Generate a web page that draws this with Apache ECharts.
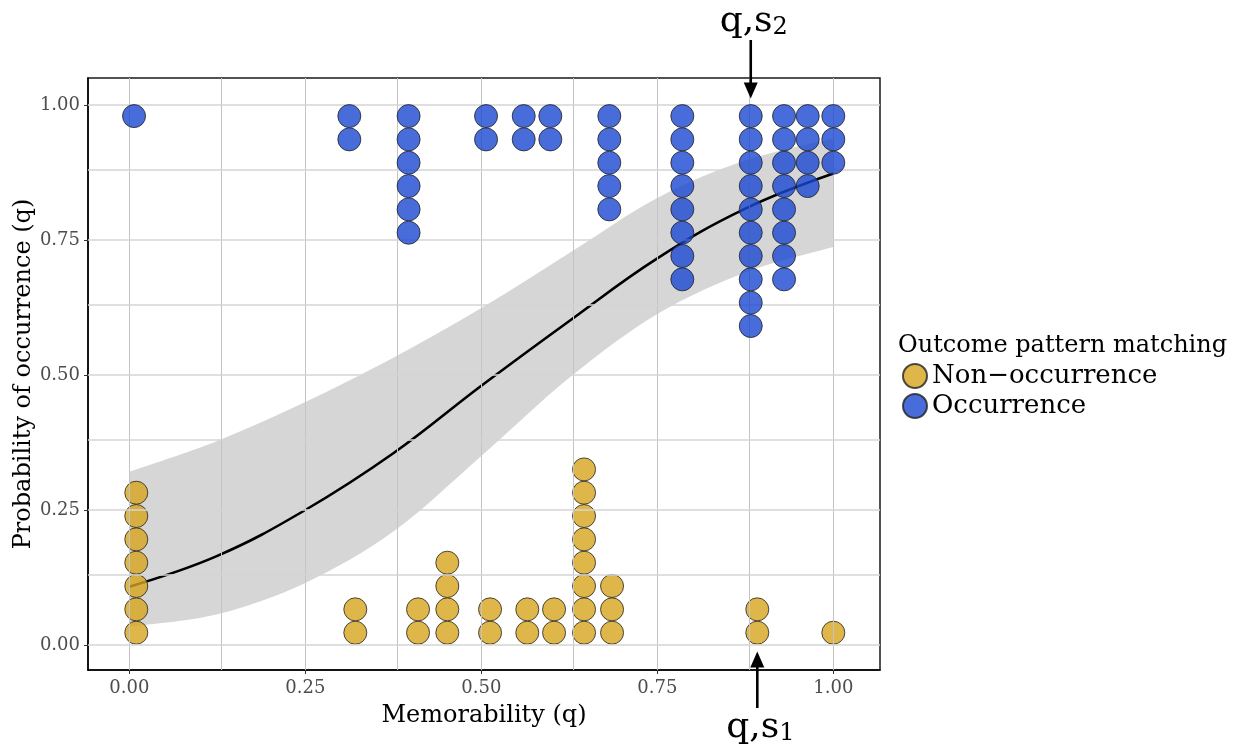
<!DOCTYPE html>
<html><head><meta charset="utf-8">
<script src="https://cdn.jsdelivr.net/npm/echarts@6/dist/echarts.min.js"></script>
<style>html,body{margin:0;padding:0;background:#fff}#c{width:1240px;height:747px}</style>
</head><body><div id="c"></div>
<script>
// ---- data ----
const nonOccX     = [0.0099, 0.3210, 0.4101, 0.4517, 0.5124, 0.5653, 0.6033, 0.6459, 0.6857, 0.8920, 1.0000];
const nonOccCount = [7, 2, 2, 4, 2, 2, 2, 8, 3, 2, 1];
const occX        = [0.0067, 0.3125, 0.3967, 0.5067, 0.5602, 0.5980, 0.6818, 0.7855, 0.8827, 0.9300, 0.9636, 1.0000];
const occCount    = [1, 2, 6, 2, 2, 2, 5, 8, 10, 8, 4, 3];
const fitX   = [0, 0.125, 0.25, 0.375, 0.5, 0.625, 0.75, 0.875, 1.0];
const fitY   = [0.108, 0.165, 0.250, 0.355, 0.480, 0.600, 0.716, 0.808, 0.873];
const ciLow  = [0.034, 0.057, 0.115, 0.210, 0.350, 0.495, 0.613, 0.690, 0.737];
const ciHigh = [0.321, 0.378, 0.450, 0.532, 0.624, 0.726, 0.828, 0.897, 0.938];
const xTicks = [0, 0.25, 0.5, 0.75, 1];
const yTicks = [0, 0.25, 0.5, 0.75, 1];
const xMinor = [0.125, 0.375, 0.625, 0.875];
const yMinor = [0.125, 0.375, 0.625, 0.875];
const seriesNames = ['Non\u2212occurrence', 'Occurrence'];
const legendTitle = 'Outcome pattern matching';
const xTitle = 'Memorability (q)';
const yTitle = 'Probability of occurrence (q)';
const annTop = {x: occX[8], label: 'q,s', sub: '2'};
const annBottom = {x: nonOccX[9], label: 'q,s', sub: '1'};

// ---- layout constants (dotplot stacking) ----
const DOT_STEP = 0.0432, NON_BASE = 0.0228, OCC_BASE = 0.9795;
function stackDots(xs, counts, base, step) {
  const out = [];
  xs.forEach((x, i) => { for (let k = 0; k < counts[i]; k++) out.push([x, base + k * step]); });
  return out;
}
const FONT = 'DejaVu Serif';
const chart = echarts.init(document.getElementById('c'), null, {renderer: 'canvas'});

const gridMarks = [];
xTicks.concat(xMinor).forEach(v => gridMarks.push({xAxis: v, lineStyle: {color: '#c4c4c4', width: 1, type: 'solid'}}));
yTicks.concat(yMinor).forEach(v => gridMarks.push({yAxis: v, lineStyle: {color: '#d4d4d4', width: 1.5, type: 'solid'}}));

const dotStyle = (c) => ({color: c, opacity: 0.8, borderColor: '#222', borderWidth: 1});

// smooth path (Catmull-Rom -> cubic Bezier) through pixel points
function smoothSeg(pts, start) {
  let d = start ? 'M' + pts[0][0] + ',' + pts[0][1] : 'L' + pts[0][0] + ',' + pts[0][1];
  for (let i = 0; i < pts.length - 1; i++) {
    const p0 = pts[Math.max(i - 1, 0)], p1 = pts[i], p2 = pts[i + 1], p3 = pts[Math.min(i + 2, pts.length - 1)];
    const c1 = [p1[0] + (p2[0] - p0[0]) / 6, p1[1] + (p2[1] - p0[1]) / 6];
    const c2 = [p2[0] - (p3[0] - p1[0]) / 6, p2[1] - (p3[1] - p1[1]) / 6];
    d += 'C' + c1[0] + ',' + c1[1] + ' ' + c2[0] + ',' + c2[1] + ' ' + p2[0] + ',' + p2[1];
  }
  return d;
}

chart.setOption({
  animation: false,
  backgroundColor: '#fff',
  title: {text: legendTitle, left: 893, top: 329,
    textStyle: {fontFamily: FONT, fontSize: 24, fontWeight: 'normal', color: '#000'}},
  legend: {data: seriesNames, orient: 'vertical', left: 897, top: 358, itemWidth: 24, itemHeight: 24,
    itemGap: 4, icon: 'circle', textStyle: {fontFamily: FONT, fontSize: 26, color: '#000'}},
  grid: {left: 88, right: 360, top: 78, bottom: 77, show: true, borderColor: '#1a1a1a', borderWidth: 1.5,
    containLabel: false, outerBoundsMode: 'none'},
  xAxis: {type: 'value', min: -0.0587, max: 1.0663, splitLine: {show: false},
    axisLine: {show: true, onZero: false, lineStyle: {color: '#000', width: 1.5}},
    axisTick: {show: true, customValues: xTicks, length: 4, lineStyle: {color: '#333'}},
    axisLabel: {customValues: xTicks, formatter: v => v.toFixed(2), color: '#4d4d4d', fontFamily: FONT, fontSize: 18, margin: 9},
    name: xTitle, nameLocation: 'middle', nameGap: 34, nameMoveOverlap: false,
    nameTextStyle: {fontFamily: FONT, fontSize: 24, color: '#000'}},
  yAxis: {type: 'value', min: -0.0463, max: 1.05, splitLine: {show: false},
    axisLine: {show: true, onZero: false, lineStyle: {color: '#000', width: 1.5}},
    axisTick: {show: true, customValues: yTicks, length: 4, lineStyle: {color: '#333'}},
    axisLabel: {customValues: yTicks, formatter: v => v.toFixed(2), color: '#4d4d4d', fontFamily: FONT, fontSize: 18, margin: 8},
    name: yTitle, nameLocation: 'middle', nameGap: 52, nameMoveOverlap: false,
    nameTextStyle: {fontFamily: FONT, fontSize: 24, color: '#000'}},
  series: [
    {name: 'grid', type: 'line', z: 1, symbol: 'none', silent: true, data: [],
     markLine: {silent: true, symbol: 'none', label: {show: false}, animation: false, data: gridMarks}},
    {name: 'ciBand', type: 'custom', z: 2, silent: true,
     data: [0],
     renderItem: function (params, api) {
       const up = fitX.map((x, i) => api.coord([x, ciHigh[i]]));
       const lo = fitX.map((x, i) => api.coord([x, ciLow[i]])).reverse();
       const d = smoothSeg(up, true) + smoothSeg(lo, false) + 'Z';
       return {type: 'path', shape: {pathData: d}, style: {fill: 'rgba(153,153,153,0.4)', stroke: null}};
     }},
    {name: 'fit', type: 'line', z: 3, smooth: 0.4, symbol: 'none', silent: true,
     lineStyle: {color: '#000', width: 2.6}, data: fitX.map((x, i) => [x, fitY[i]])},
    {name: seriesNames[0], type: 'scatter', z: 4, symbol: 'circle', symbolSize: 23,
     itemStyle: dotStyle('#D6A41D'), data: stackDots(nonOccX, nonOccCount, NON_BASE, DOT_STEP)},
    {name: seriesNames[1], type: 'scatter', z: 5, symbol: 'circle', symbolSize: 23,
     itemStyle: dotStyle('#1A47D1'), data: stackDots(occX, occCount, OCC_BASE, -DOT_STEP)}
  ]
});

// ---- annotations positioned from axis coordinates ----
function px(x, y) { return chart.convertToPixel({xAxisIndex: 0, yAxisIndex: 0}, [x, y]); }
function arrowGroup(ann, tipY, tailY, textY, down) {
  const x = px(ann.x, 0)[0];
  const dir = down ? -1 : 1;
  return [
    {type: 'line', shape: {x1: x, y1: tailY, x2: x, y2: tipY + dir * 12}, style: {stroke: '#000', lineWidth: 2.6}, z: 100},
    {type: 'polygon', shape: {points: [[x - 7, tipY + dir * 16], [x + 7, tipY + dir * 16], [x, tipY]]}, style: {fill: '#000'}, z: 100},
    {type: 'text', x: x + 3, y: textY, z: 100, style: {
      text: '{a|' + ann.label + '}{b|' + ann.sub + '}', align: 'center', verticalAlign: 'middle',
      rich: {a: {fontFamily: FONT, fontSize: 36, lineHeight: 40, verticalAlign: 'bottom', fill: '#000'},
             b: {fontFamily: FONT, fontSize: 24, lineHeight: 32, verticalAlign: 'bottom', fill: '#000'}}}}
  ];
}
const topTip = px(annTop.x, 1.012)[1];
const botTip = px(annBottom.x, -0.012)[1];
chart.setOption({graphic: arrowGroup(annTop, topTip, 40, 20, true).concat(arrowGroup(annBottom, botTip, 708, 726, false))});
</script></body></html>
